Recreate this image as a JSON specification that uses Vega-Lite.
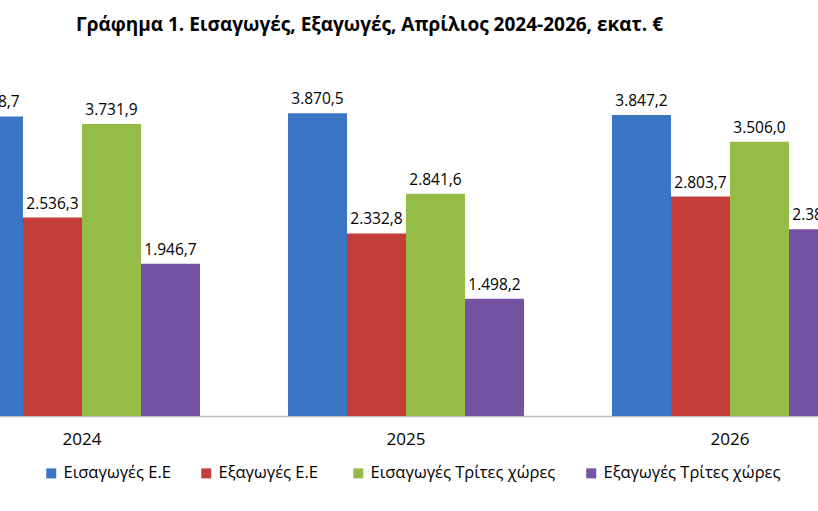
{
  "$schema": "https://vega.github.io/schema/vega-lite/v6.json",
  "autosize": {"type": "none"},
  "width": 818,
  "height": 313,
  "padding": {"left": 0, "top": 103, "right": 0, "bottom": 95},
  "background": "white",
  "config": {
    "locale": {"number": {"decimal": ",", "thousands": ".", "grouping": [3], "currency": ["", " €"]}},
    "view": {"stroke": null},
    "font": "Open Sans"
  },
  "title": {
    "text": "Γράφημα 1. Εισαγωγές, Εξαγωγές, Απρίλιος 2024-2026, εκατ. €",
    "anchor": "start",
    "frame": "group",
    "dx": 76,
    "offset": 57,
    "font": "Open Sans",
    "fontSize": 19,
    "fontWeight": "bold",
    "color": "#000000"
  },
  "data": {
    "values": [
      {"year": "2024", "series": "Εισαγωγές Ε.Ε", "value": 3828.7},
      {"year": "2024", "series": "Εξαγωγές  Ε.Ε", "value": 2536.3},
      {"year": "2024", "series": "Εισαγωγές Τρίτες χώρες", "value": 3731.9},
      {"year": "2024", "series": "Εξαγωγές Τρίτες χώρες", "value": 1946.7},
      {"year": "2025", "series": "Εισαγωγές Ε.Ε", "value": 3870.5},
      {"year": "2025", "series": "Εξαγωγές  Ε.Ε", "value": 2332.8},
      {"year": "2025", "series": "Εισαγωγές Τρίτες χώρες", "value": 2841.6},
      {"year": "2025", "series": "Εξαγωγές Τρίτες χώρες", "value": 1498.2},
      {"year": "2026", "series": "Εισαγωγές Ε.Ε", "value": 3847.2},
      {"year": "2026", "series": "Εξαγωγές  Ε.Ε", "value": 2803.7},
      {"year": "2026", "series": "Εισαγωγές Τρίτες χώρες", "value": 3506.0},
      {"year": "2026", "series": "Εξαγωγές Τρίτες χώρες", "value": 2386.1}
    ]
  },
  "encoding": {
    "x": {
      "field": "year",
      "type": "nominal",
      "scale": {"range": [-80, 892], "paddingInner": 0.2716, "paddingOuter": 0.1358},
      "axis": {
        "title": null,
        "labelAngle": 0,
        "ticks": false,
        "domainColor": "#bfbfbf",
        "domainWidth": 1.5,
        "labelFont": "Open Sans",
        "labelFontSize": 17,
        "labelColor": "#000000",
        "labelPadding": 15
      }
    },
    "xOffset": {
      "field": "series",
      "type": "nominal",
      "sort": ["Εισαγωγές Ε.Ε", "Εξαγωγές  Ε.Ε", "Εισαγωγές Τρίτες χώρες", "Εξαγωγές Τρίτες χώρες"],
      "scale": {"paddingInner": 0, "paddingOuter": 0}
    },
    "y": {
      "field": "value",
      "type": "quantitative",
      "scale": {"domain": [0, 4000], "nice": false},
      "axis": null
    }
  },
  "layer": [
    {
      "mark": {"type": "bar"},
      "encoding": {
        "color": {
          "field": "series",
          "type": "nominal",
          "sort": ["Εισαγωγές Ε.Ε", "Εξαγωγές  Ε.Ε", "Εισαγωγές Τρίτες χώρες", "Εξαγωγές Τρίτες χώρες"],
          "scale": {"range": ["#3a76c4", "#c43d38", "#95bc46", "#7653a2"]},
          "legend": {
            "title": null,
            "orient": "none",
            "direction": "horizontal",
            "legendX": 43,
            "legendY": 362,
            "padding": 0,
            "symbolType": "square",
            "symbolSize": 100,
            "symbolStrokeWidth": 0,
            "labelFont": "Open Sans",
            "labelFontSize": 16.5,
            "labelColor": "#000000",
            "labelOffset": 4,
            "labelLimit": 400,
            "columnPadding": 27
          }
        }
      }
    },
    {
      "mark": {"type": "text", "dy": -14, "font": "Open Sans", "fontSize": 15.5, "color": "#000000"},
      "encoding": {
        "text": {"field": "value", "type": "quantitative", "format": ",.1f"}
      }
    }
  ]
}
